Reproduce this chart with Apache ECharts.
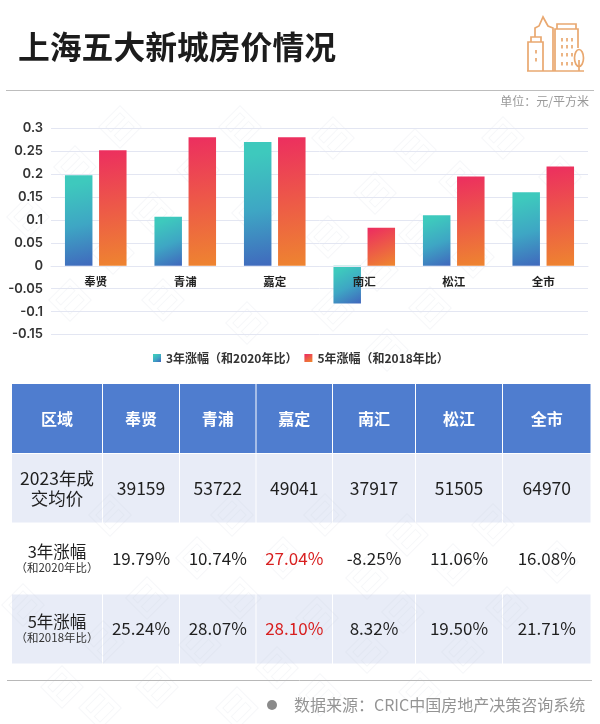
<!DOCTYPE html>
<html>
<head>
<meta charset="utf-8">
<style>
html, body { margin: 0; padding: 0; background: #fff; }
#main { width: 600px; height: 724px; }
</style>
<script src="https://cdn.jsdelivr.net/npm/echarts@6/dist/echarts.min.js"></script>
</head>
<body>
<div id="main"></div>
<script>
const districts = ['奉贤', '青浦', '嘉定', '南汇', '松江', '全市'];
const rise3y = [0.1979, 0.1074, 0.2704, -0.0825, 0.1106, 0.1608];
const rise5y = [0.2524, 0.2807, 0.2810, 0.0832, 0.1950, 0.2171];
const prices = ['39159', '53722', '49041', '37917', '51505', '64970'];
const rise3yText = ['19.79%', '10.74%', '27.04%', '-8.25%', '11.06%', '16.08%'];
const rise5yText = ['25.24%', '28.07%', '28.10%', '8.32%', '19.50%', '21.71%'];
const name3y = '3年涨幅（和2020年比）';
const name5y = '5年涨幅（和2018年比）';

const FONT = '"Noto Sans CJK SC", "Noto Sans", sans-serif';
const colEdges = [11.5, 102.5, 179.5, 256, 332.5, 415.5, 502.5, 591];
const rowEdges = [383.5, 453.5, 523, 594, 664];
// the background stamps are too faint to read, only their spots are kept
const stampSpots = [
    [120, 127], [75, 167], [28, 217], [198, 170], [153, 213], [253, 213], [240, 127],
    [113, 253], [70, 300], [163, 300], [247, 323], [333, 138], [415, 150], [503, 138],
    [375, 193], [460, 182], [560, 177], [328, 237], [420, 235], [517, 223], [377, 270],
    [473, 257], [430, 308], [333, 310], [387, 350], [110, 515], [232, 515], [197, 558],
    [283, 558], [147, 598], [240, 598], [23, 605], [103, 642], [200, 645], [277, 668],
    [62, 687], [157, 687], [237, 708], [100, 708], [325, 515], [407, 535], [493, 525],
    [367, 578], [453, 565], [557, 562], [317, 618], [403, 612], [507, 608], [367, 652],
    [463, 652], [420, 692], [320, 695]
];

// table pieces are plain graphics, there is no table component
function cellRect(col, row, fill) {
    return {
        type: 'rect',
        shape: {
            x: colEdges[col] + 0.5,
            y: rowEdges[row] + 0.5,
            width: colEdges[col + 1] - colEdges[col] - 1,
            height: rowEdges[row + 1] - rowEdges[row] - 1
        },
        style: { fill: fill }
    };
}

function cellText(col, row, text, size, color, weight, dy) {
    return {
        type: 'text',
        x: (colEdges[col] + colEdges[col + 1]) / 2,
        y: (rowEdges[row] + rowEdges[row + 1]) / 2 + (dy || 0),
        z: 5,
        style: {
            text: text,
            fill: color,
            font: (weight || 'normal') + ' ' + size + 'px ' + FONT,
            textAlign: 'center',
            textVerticalAlign: 'middle'
        }
    };
}

function buildTable() {
    const items = [];
    const dark = '#1f1f1f';
    const red = '#d81e1e';
    for (let c = 0; c < 7; c++) {
        items.push(cellRect(c, 0, '#4f7dcf'));
        items.push(cellRect(c, 1, '#e8ecf7'));
        items.push(cellRect(c, 3, '#e8ecf7'));
    }
    items.push(cellText(0, 0, '区域', 16, '#fff', 'bold'));
    items.push(cellText(0, 1, '2023年成', 17.5, dark, 'normal', -10));
    items.push(cellText(0, 1, '交均价', 17.5, dark, 'normal', 10));
    items.push(cellText(0, 2, '3年涨幅', 16.5, dark, 'normal', -6.5));
    items.push(cellText(0, 2, '（和2020年比）', 11.5, '#333', 'normal', 9.5));
    items.push(cellText(0, 3, '5年涨幅', 16.5, dark, 'normal', -7));
    items.push(cellText(0, 3, '（和2018年比）', 11.5, '#333', 'normal', 9));
    districts.forEach((name, i) => {
        items.push(cellText(i + 1, 0, name, 16, '#fff', 'bold'));
        items.push(cellText(i + 1, 1, prices[i], 17.5, dark));
        items.push(cellText(i + 1, 2, rise3yText[i], 17, name === '嘉定' ? red : dark));
        items.push(cellText(i + 1, 3, rise5yText[i], 17, name === '嘉定' ? red : dark));
    });
    return items;
}

function buildIcon() {
    const line = { stroke: '#e9a870', lineWidth: 1.7, fill: null };
    const poly = pts => ({ type: 'polyline', shape: { points: pts }, style: line });
    const dash = (x, y) => poly([[x, y], [x, y + 3.5]]);
    const items = [
        poly([[527, 71], [584, 71]]),
        poly([[528, 71], [528, 42], [543, 42], [543, 71]]),
        poly([[531, 42], [531, 37], [541, 37], [541, 42]]),
        poly([[535, 37], [535, 28], [539, 26], [543, 17], [548, 26], [553, 28], [553, 71]]),
        poly([[555, 71], [555, 29], [578, 29], [578, 48]]),
        poly([[557, 29], [557, 24], [576, 24], [576, 29]]),
        { type: 'ellipse', shape: { cx: 579, cy: 58, rx: 4.5, ry: 8.5 }, style: line },
        poly([[579, 60], [579, 71]]),
        dash(536, 50),
        dash(536, 58)
    ];
    [562, 567, 572].forEach(x => {
        [38, 45, 53, 62].forEach(y => items.push(dash(x, y)));
    });
    return items;
}

function buildStamps() {
    const line = { stroke: 'rgba(205,210,224,0.18)', lineWidth: 1, fill: null };
    return stampSpots.map(spot => ({
        type: 'group',
        x: spot[0],
        y: spot[1],
        rotation: Math.PI / 4,
        z: 1,
        children: [
            { type: 'rect', shape: { x: -15, y: -15, width: 30, height: 30 }, style: line },
            { type: 'rect', shape: { x: -10, y: -10, width: 20, height: 7 }, style: line },
            { type: 'rect', shape: { x: -10, y: 2, width: 20, height: 8 }, style: line }
        ]
    }));
}

const chart = echarts.init(document.getElementById('main'));
chart.setOption({
    animation: false,
    backgroundColor: '#fff',
    textStyle: { fontFamily: FONT },
    grid: { left: 51, right: 12, top: 128.5, bottom: 389.5, containLabel: false },
    legend: {
        top: 347,
        left: 148,
        itemWidth: 8,
        itemHeight: 8,
        itemGap: 7,
        icon: 'rect',
        selectedMode: false,
        textStyle: { fontSize: 12, fontWeight: 'bold', color: '#333' },
        data: [name3y, name5y]
    },
    xAxis: {
        type: 'category',
        data: districts,
        offset: -68.5,
        z: 10,
        axisTick: { show: false },
        axisLine: { onZero: false, lineStyle: { color: '#e3e6f2', width: 1 } },
        axisLabel: { color: '#222', fontSize: 11.5, fontWeight: 'bold', margin: 10 }
    },
    yAxis: {
        type: 'value',
        min: -0.15,
        max: 0.3,
        interval: 0.05,
        axisLine: { show: false },
        axisTick: { show: false },
        axisLabel: { color: '#333', fontSize: 13, fontWeight: 600, margin: 8, fontFamily: 'Inter' },
        splitLine: { lineStyle: { color: '#e3e6f2', width: 1 } }
    },
    series: [
        {
            name: name3y,
            type: 'bar',
            data: rise3y,
            barWidth: 27.5,
            barGap: '24%',
            itemStyle: {
                color: new echarts.graphic.LinearGradient(0.25, 0.1, 0.9, 1, [
                    { offset: 0, color: '#3ec9bd' },
                    { offset: 0.5, color: '#3ea6c4' },
                    { offset: 1, color: '#4069bd' }
                ])
            }
        },
        {
            name: name5y,
            type: 'bar',
            data: rise5y,
            barWidth: 27.5,
            itemStyle: {
                color: new echarts.graphic.LinearGradient(0.2, 0, 0.8, 1, [
                    { offset: 0, color: '#ec2f5f' },
                    { offset: 1, color: '#ee8430' }
                ])
            }
        }
    ],
    graphic: [
        { type: 'text', x: 18, y: 47, style: { text: '上海五大新城房价情况', fill: '#1c1c1c', font: 'bold 31.8px ' + FONT, textVerticalAlign: 'middle' } },
        { type: 'line', shape: { x1: 6, y1: 90.5, x2: 594, y2: 90.5 }, style: { stroke: '#bdbdbd', lineWidth: 1 } },
        { type: 'text', x: 589, y: 101, style: { text: '单位：元/平方米', fill: '#999', font: '12px ' + FONT, textAlign: 'right', textVerticalAlign: 'middle' } },
        ...buildIcon(),
        ...buildTable(),
        ...buildStamps(),
        { type: 'line', shape: { x1: 7, y1: 680.5, x2: 592, y2: 680.5 }, style: { stroke: '#b8b8b8', lineWidth: 1 } },
        { type: 'circle', shape: { cx: 272, cy: 705, r: 5 }, style: { fill: '#8a8a8a' } },
        { type: 'text', x: 294, y: 705, style: { text: '数据来源：CRIC中国房地产决策咨询系统', fill: '#949494', font: '16px ' + FONT, textVerticalAlign: 'middle' } }
    ]
});
</script>
</body>
</html>
